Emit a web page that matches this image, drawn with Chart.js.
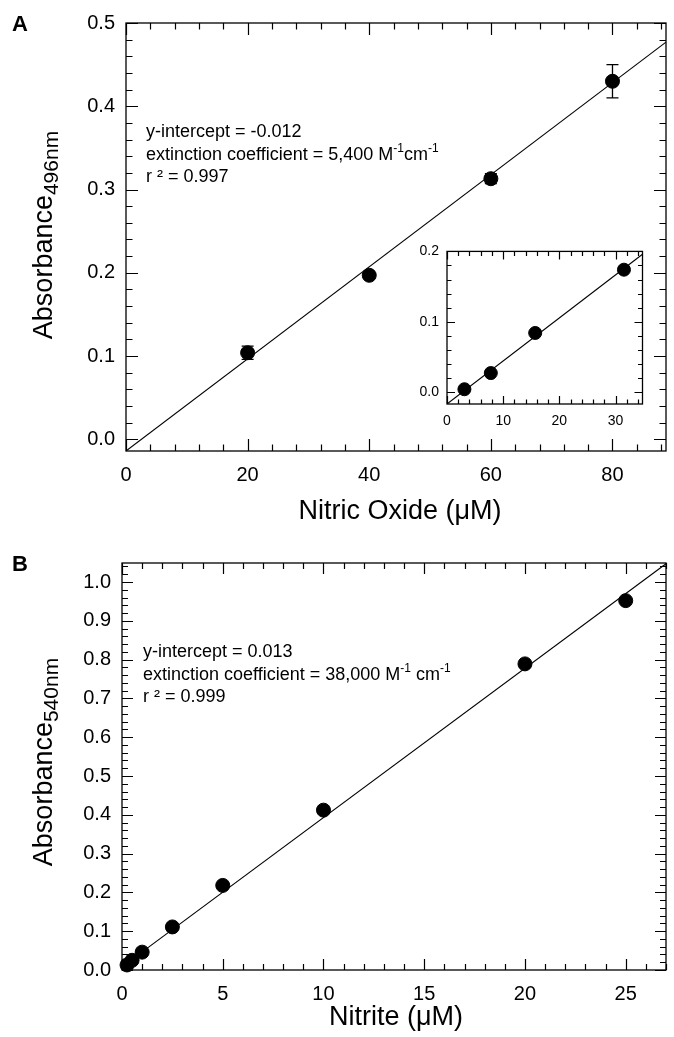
<!DOCTYPE html>
<html>
<head>
<meta charset="utf-8">
<script src="https://cdn.jsdelivr.net/npm/chart.js@4.4.0/dist/chart.umd.min.js"></script>
<style>
  html, body { margin: 0; padding: 0; background: #fff; }
  body { width: 674px; height: 1037px; position: relative; overflow: hidden; }
  canvas { position: absolute; }
</style>
</head>
<body>
<canvas id="chartA" width="674" height="540" style="left:0;top:0"></canvas>
<canvas id="chartInset" width="250" height="200" style="left:400px;top:235px"></canvas>
<canvas id="chartB" width="674" height="497" style="left:0;top:540px"></canvas>
<script>
// panel A - nitric oxide
const noxConc = [20, 40, 60, 80];
const noxAbs = [0.104, 0.197, 0.313, 0.430];
const noxErr = [0.008, 0.003, 0.006, 0.020];
const noxFitX = [0, 88.8];
const noxFitY = [-0.014, 0.477];
const noxXTicks = [0, 20, 40, 60, 80];
const noxYTicks = [0, 0.1, 0.2, 0.3, 0.4, 0.5];

// inset of panel A
const insetConc = [3.1, 7.8, 15.7, 31.5];
const insetAbs = [0.004, 0.027, 0.084, 0.174];
const insetFitX = [0, 34.8];
const insetFitY = [-0.017, 0.196];
const insetXTicks = [0, 10, 20, 30];
const insetYTicks = [0, 0.1, 0.2];

// panel B - nitrite
const nitriteConc = [0.25, 0.5, 1, 2.5, 5, 10, 20, 25];
const nitriteAbs = [0.013, 0.025, 0.046, 0.111, 0.218, 0.412, 0.789, 0.952];
const nitriteFitX = [0, 27];
const nitriteFitY = [0.008, 1.047];
const nitriteXTicks = [0, 5, 10, 15, 20, 25];
const nitriteYTicks = [0, 0.1, 0.2, 0.3, 0.4, 0.5, 0.6, 0.7, 0.8, 0.9, 1.0];

const FONT = '"Liberation Sans", Arial, Helvetica, sans-serif';
Chart.defaults.font.family = FONT;
Chart.defaults.color = '#000';

const pts = (xs, ys) => xs.map((x, i) => ({ x: x, y: ys[i] }));

// box + inward ticks on all four sides
const frameTicks = {
  id: 'frameTicks',
  beforeDatasetsDraw(chart, args, o) {
    const { ctx, chartArea: a, scales: { x, y } } = chart;
    ctx.save();
    ctx.strokeStyle = '#000';
    ctx.lineWidth = 1.3;
    ctx.strokeRect(a.left, a.top, a.right - a.left, a.bottom - a.top);
    ctx.lineWidth = 1.2;
    ctx.beginPath();
    const isMajor = (list, v, step) => list.some(m => Math.abs(m - v) < step / 10);
    for (let i = Math.ceil(x.min / o.xStep - 1e-9); i * o.xStep <= x.max + 1e-9; i++) {
      const v = i * o.xStep;
      const px = Math.round(x.getPixelForValue(v)) + 0.5;
      const len = isMajor(o.xMajor, v, o.xStep) ? o.major : o.minor;
      ctx.moveTo(px, a.bottom); ctx.lineTo(px, a.bottom - len);
      ctx.moveTo(px, a.top); ctx.lineTo(px, a.top + len);
    }
    for (let i = Math.ceil(y.min / o.yStep - 1e-9); i * o.yStep <= y.max + 1e-9; i++) {
      const v = i * o.yStep;
      const py = Math.round(y.getPixelForValue(v)) + 0.5;
      const len = isMajor(o.yMajor, v, o.yStep) ? o.major : o.minor;
      ctx.moveTo(a.left, py); ctx.lineTo(a.left + len, py);
      ctx.moveTo(a.right, py); ctx.lineTo(a.right - len, py);
    }
    ctx.stroke();
    ctx.restore();
  }
};

const errorBars = {
  id: 'errorBars',
  beforeDatasetsDraw(chart, args, o) {
    if (!o.err) return;
    const { ctx, scales: { x, y } } = chart;
    ctx.save();
    ctx.strokeStyle = '#000';
    ctx.lineWidth = 1.3;
    ctx.beginPath();
    o.xs.forEach((xv, i) => {
      const px = x.getPixelForValue(xv);
      const top = y.getPixelForValue(o.ys[i] + o.err[i]);
      const bot = y.getPixelForValue(o.ys[i] - o.err[i]);
      ctx.moveTo(px, top); ctx.lineTo(px, bot);
      ctx.moveTo(px - 6, top); ctx.lineTo(px + 6, top);
      ctx.moveTo(px - 6, bot); ctx.lineTo(px + 6, bot);
    });
    ctx.stroke();
    ctx.restore();
  }
};

// text runs: [text, ''|'sup'|'sub']
function drawRuns(ctx, runs, x, y, size, subSize, align) {
  const fontOf = k => (k ? subSize : size) + 'px ' + FONT;
  let total = 0;
  runs.forEach(([t, k]) => { ctx.font = fontOf(k); total += ctx.measureText(t).width; });
  let cx = align === 'center' ? x - total / 2 : x;
  runs.forEach(([t, k]) => {
    ctx.font = fontOf(k);
    const dy = k === 'sup' ? -size * 0.33 : k === 'sub' ? size * 0.24 : 0;
    ctx.fillText(t, cx, y + dy);
    cx += ctx.measureText(t).width;
  });
}

const annotations = {
  id: 'annotations',
  afterDraw(chart, args, o) {
    if (!o.items) return;
    const ctx = chart.ctx;
    ctx.save();
    ctx.fillStyle = '#000';
    o.items.forEach(it => {
      ctx.textBaseline = it.baseline || 'middle';
      ctx.textAlign = 'left';
      if (it.rotate) {
        ctx.save();
        ctx.translate(it.x, it.y);
        ctx.rotate(-Math.PI / 2);
        drawRuns(ctx, it.runs, 0, 0, it.size, it.subSize || it.size * 0.7, 'center');
        ctx.restore();
      } else if (it.bold) {
        ctx.font = 'bold ' + it.size + 'px ' + FONT;
        ctx.fillText(it.runs[0][0], it.x, it.y);
      } else {
        drawRuns(ctx, it.runs, it.x, it.y, it.size, it.subSize || Math.round(it.size * 0.7), it.align);
      }
    });
    ctx.restore();
  }
};

function axis(min, max, ticks, fmt, size, pad, fit) {
  return {
    type: 'linear',
    min: min,
    max: max,
    afterBuildTicks: s => { s.ticks = ticks.map(v => ({ value: v })); },
    afterFit: fit,
    grid: { display: false, drawTicks: false },
    border: { display: false },
    ticks: { padding: pad, color: '#000', autoSkip: false, maxRotation: 0,
             font: { size: size }, callback: fmt }
  };
}

function datasets(xs, ys, fx, fy, r) {
  return [
    { type: 'line', data: pts(fx, fy), borderColor: '#000', borderWidth: 1.1,
      pointRadius: 0, fill: false },
    { type: 'scatter', data: pts(xs, ys), backgroundColor: '#000', borderColor: '#000',
      pointRadius: r, pointHoverRadius: r, clip: false }
  ];
}

const fmt1 = v => v.toFixed(1);
const fmt0 = v => String(v);

new Chart(document.getElementById('chartA'), {
  type: 'scatter',
  data: { datasets: datasets(noxConc, noxAbs, noxFitX, noxFitY, 7) },
  options: {
    responsive: false,
    animation: false,
    layout: { padding: { top: 19, right: 0, left: 0, bottom: 0 } },
    scales: {
      x: axis(0, 88.8, noxXTicks, fmt0, 20, 12, s => { s.height = 89; }),
      y: axis(-0.014, 0.5, noxYTicks, fmt1, 20, 11, s => { s.width = 126; })
    },
    plugins: {
      legend: { display: false },
      tooltip: { enabled: false },
      frameTicks: { xStep: 4, yStep: 0.02, xMajor: noxXTicks, yMajor: noxYTicks, major: 12, minor: 6.5 },
      errorBars: { xs: noxConc, ys: noxAbs, err: noxErr },
      annotations: { items: [
        { runs: [['A', '']], x: 12, y: 25, size: 22, bold: true },
        { runs: [['y-intercept = -0.012', '']], x: 146, y: 132, size: 18 },
        { runs: [['extinction coefficient = 5,400 M', ''], ['-1', 'sup'], ['cm', ''], ['-1', 'sup']], x: 146, y: 155, size: 18, subSize: 12 },
        { runs: [['r ² = 0.997', '']], x: 146, y: 177, size: 18 },
        { runs: [['Nitric Oxide (\u03bcM)', '']], x: 400, y: 512, size: 27, align: 'center' },
        { runs: [['Absorbance', ''], ['496nm', 'sub']], x: 52, y: 235, size: 27, subSize: 21, rotate: true, baseline: 'alphabetic' }
      ] }
    }
  },
  plugins: [frameTicks, errorBars, annotations]
});

new Chart(document.getElementById('chartInset'), {
  type: 'scatter',
  data: { datasets: datasets(insetConc, insetAbs, insetFitX, insetFitY, 6.5) },
  options: {
    responsive: false,
    animation: false,
    layout: { padding: { top: 10, right: 4, left: 0, bottom: 0 } },
    scales: {
      x: axis(0, 34.8, insetXTicks, fmt0, 14, 9, s => { s.height = 31; }),
      y: axis(-0.017, 0.2, insetYTicks, fmt1, 14, 8, s => { s.width = 47; })
    },
    plugins: {
      legend: { display: false },
      tooltip: { enabled: false },
      frameTicks: { xStep: 2, yStep: 0.02, xMajor: insetXTicks, yMajor: insetYTicks, major: 8, minor: 4.5 }
    }
  },
  plugins: [frameTicks]
});

new Chart(document.getElementById('chartB'), {
  type: 'scatter',
  data: { datasets: datasets(nitriteConc, nitriteAbs, nitriteFitX, nitriteFitY, 7) },
  options: {
    responsive: false,
    animation: false,
    layout: { padding: { top: 14, right: 3, left: 0, bottom: 0 } },
    scales: {
      x: axis(0, 27, nitriteXTicks, fmt0, 20, 12, s => { s.height = 67; }),
      y: axis(0, 1.049, nitriteYTicks, fmt1, 20, 11, s => { s.width = 122; })
    },
    plugins: {
      legend: { display: false },
      tooltip: { enabled: false },
      frameTicks: { xStep: 1, yStep: 0.02, xMajor: nitriteXTicks, yMajor: nitriteYTicks, major: 11, minor: 6 },
      annotations: { items: [
        { runs: [['B', '']], x: 12, y: 25, size: 22, bold: true },
        { runs: [['y-intercept = 0.013', '']], x: 143, y: 112, size: 18 },
        { runs: [['extinction coefficient = 38,000 M', ''], ['-1', 'sup'], [' cm', ''], ['-1', 'sup']], x: 143, y: 135, size: 18, subSize: 12 },
        { runs: [['r ² = 0.999', '']], x: 143, y: 157, size: 18 },
        { runs: [['Nitrite (\u03bcM)', '']], x: 396, y: 478, size: 27, align: 'center' },
        { runs: [['Absorbance', ''], ['540nm', 'sub']], x: 52, y: 222, size: 27, subSize: 21, rotate: true, baseline: 'alphabetic' }
      ] }
    }
  },
  plugins: [frameTicks, annotations]
});
</script>
</body>
</html>
